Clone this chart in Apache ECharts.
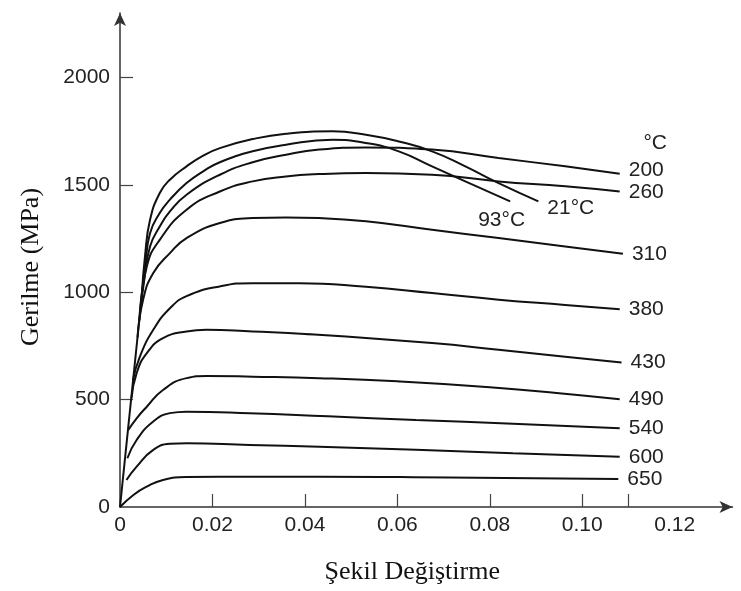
<!DOCTYPE html>
<html>
<head>
<meta charset="utf-8">
<script src="https://cdn.jsdelivr.net/npm/echarts@6/dist/echarts.min.js"></script>
<style>
  html, body { margin: 0; padding: 0; background: #fff; }
  #chart { width: 741px; height: 591px; }
</style>
</head>
<body>
<div id="chart"></div>
<script>
// eksen etiketleri
var xLabels = [0, 0.02, 0.04, 0.06, 0.08, 0.10, 0.12];
var xTicks = [0.02, 0.04, 0.06, 0.08, 0.10, 0.11];
var yLabels = [0, 500, 1000, 1500, 2000];
var yTicks = [500, 1000, 1500, 2000];

// elastik bölge (ortak doğru)
var elastic = [[0, 0], [0.0047, 980]];

// [şekil değiştirme, gerilme MPa]
var c21 = [[0.0047, 980], [0.0054, 1166], [0.0065, 1337], [0.0086, 1462], [0.0108, 1524], [0.0144, 1586], [0.018, 1636], [0.0216, 1671], [0.0287, 1713], [0.0359, 1738], [0.046, 1749], [0.0532, 1733], [0.0603, 1702], [0.0675, 1656], [0.0747, 1586], [0.0819, 1508], [0.0905, 1423]];
var c93 = [[0.0045, 940], [0.0055, 1130], [0.0065, 1275], [0.0086, 1369], [0.0108, 1431], [0.0144, 1508], [0.018, 1563], [0.0216, 1605], [0.0287, 1656], [0.0359, 1687], [0.046, 1710], [0.0532, 1695], [0.0603, 1656], [0.0675, 1586], [0.0747, 1516], [0.0844, 1423]];
var c200 = [[0.0043, 900], [0.0052, 1050], [0.0065, 1213], [0.0086, 1306], [0.0108, 1376], [0.0144, 1454], [0.0216, 1547], [0.0287, 1605], [0.0359, 1640], [0.0431, 1664], [0.0532, 1674], [0.0675, 1664], [0.0819, 1625], [0.0963, 1586], [0.1081, 1552]];
var c260 = [[0.0042, 870], [0.0058, 1120], [0.0086, 1244], [0.0144, 1384], [0.0216, 1469], [0.0287, 1516], [0.0359, 1539], [0.0431, 1550], [0.0532, 1555], [0.0675, 1547], [0.0819, 1516], [0.0963, 1493], [0.1081, 1469]];
var c310 = [[0.0038, 790], [0.005, 965], [0.0072, 1089], [0.0108, 1182], [0.0144, 1252], [0.0216, 1322], [0.0287, 1345], [0.0359, 1348], [0.0431, 1345], [0.0532, 1330], [0.0675, 1291], [0.0819, 1252], [0.0963, 1213], [0.1088, 1179]];
var c380 = [[0.0028, 590], [0.0043, 700], [0.0072, 825], [0.0108, 925], [0.0144, 982], [0.0216, 1027], [0.0287, 1042], [0.0388, 1042], [0.0532, 1025], [0.0675, 996], [0.0819, 965], [0.0963, 941], [0.1081, 921]];
var c430 = [[0.0025, 507], [0.0036, 623], [0.0058, 716], [0.0093, 786], [0.0144, 817], [0.0187, 825], [0.0287, 817], [0.04, 806], [0.0675, 763], [0.0819, 732], [0.0963, 700], [0.1085, 673]];
var c490 = [[0.0018, 359], [0.0036, 413], [0.0058, 467], [0.0093, 545], [0.0144, 600], [0.0187, 610], [0.0287, 607], [0.0431, 600], [0.06, 585], [0.08, 558], [0.095, 530], [0.1081, 502]];
var c540 = [[0.0016, 227], [0.0036, 312], [0.0072, 398], [0.0108, 437], [0.0144, 444], [0.028, 437], [0.045, 422], [0.064, 405], [0.085, 388], [0.1081, 367]];
var c600 = [[0.0014, 126], [0.0036, 188], [0.0072, 266], [0.0108, 294], [0.0144, 297], [0.028, 289], [0.0431, 281], [0.064, 266], [0.085, 250], [0.1081, 234]];
var c650 = [[0, 0], [0.0029, 56], [0.0058, 95], [0.0093, 126], [0.0144, 140], [0.0216, 141], [0.0431, 141], [0.0711, 137], [0.1078, 130]];

var curveNames = ['21°C', '93°C', '200', '260', '310', '380', '430', '490', '540', '600', '650'];
var curveData = [c21, c93, c200, c260, c310, c380, c430, c490, c540, c600, c650];
// etiket kaydırmaları (px)
var labelOffsets = [[0, 7], [-41, 19], [0, -3], [0, 1], [0, 0], [0, 0], [0, 0], [0, 0], [0, 0], [0, 0], [0, 0]];

var textFont = 'Liberation Sans';
var nameFont = 'Liberation Serif';

function makeCurve(name, data, off) {
    return {
        name: name,
        type: 'line',
        data: data,
        smooth: 0.5,
        symbol: 'none',
        lineStyle: { color: '#111', width: 2 },
        endLabel: {
            show: true,
            formatter: name,
            distance: 9,
            offset: off,
            color: '#222',
            fontSize: 21,
            fontFamily: textFont
        },
        z: 3
    };
}

var series = [{
    name: 'elastik',
    type: 'line',
    data: elastic,
    symbol: 'none',
    lineStyle: { color: '#111', width: 2 },
    z: 3
}];
for (var i = 0; i < curveNames.length; i++) {
    series.push(makeCurve(curveNames[i], curveData[i], labelOffsets[i]));
}

var chart = echarts.init(document.getElementById('chart'));
chart.setOption({
    animation: false,
    backgroundColor: '#fff',
    grid: { left: 120, right: 8.5, top: 13, bottom: 84 },
    xAxis: {
        type: 'value',
        min: 0,
        max: 0.1325,
        interval: 0.02,
        name: 'Şekil Değiştirme',
        nameLocation: 'middle',
        nameGap: 52,
        nameTextStyle: { fontFamily: nameFont, fontSize: 26, color: '#111', padding: [0, 28, 0, 0] },
        axisLine: { show: true, symbol: ['none', 'arrow'], symbolSize: [9, 13], lineStyle: { color: '#333', width: 1.5 } },
        axisTick: { show: true, inside: true, length: 13, customValues: xTicks, lineStyle: { color: '#444', width: 1.2 } },
        axisLabel: {
            customValues: xLabels,
            margin: 8,
            fontSize: 21,
            fontFamily: textFont,
            color: '#222',
            formatter: function (v) { return v === 0 ? '0' : v.toFixed(2); }
        },
        splitLine: { show: false }
    },
    yAxis: {
        type: 'value',
        min: 0,
        max: 2300,
        interval: 500,
        name: 'Gerilme (MPa)',
        nameLocation: 'middle',
        nameGap: 76,
        nameTextStyle: { fontFamily: nameFont, fontSize: 26, color: '#111', padding: [0, 14, 0, 0] },
        axisLine: { show: true, symbol: ['none', 'arrow'], symbolSize: [9, 13], lineStyle: { color: '#333', width: 1.5 } },
        axisTick: { show: true, inside: true, length: 13, customValues: yTicks, lineStyle: { color: '#444', width: 1.2 } },
        axisLabel: {
            customValues: yLabels,
            margin: 10,
            fontSize: 21,
            fontFamily: textFont,
            color: '#222',
            formatter: function (v) { return String(v); }
        },
        splitLine: { show: false }
    },
    graphic: [{
        type: 'text',
        right: 74,
        top: 133,
        style: { text: '°C', fontSize: 21, fontFamily: textFont, fill: '#222' }
    }],
    series: series
});
</script>
</body>
</html>
